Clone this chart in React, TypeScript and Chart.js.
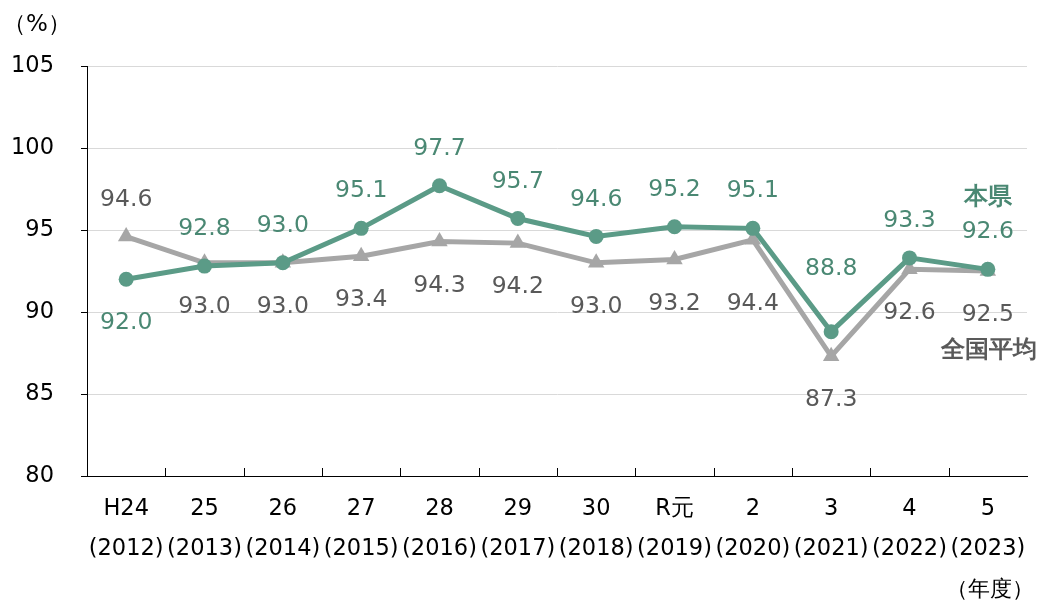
import React, { useEffect, useRef } from "react";
import { Chart, registerables } from "chart.js";

Chart.register(...registerables);

const categories: string[][] = [
  ["H24", "(2012)"], ["25", "(2013)"], ["26", "(2014)"], ["27", "(2015)"],
  ["28", "(2016)"], ["29", "(2017)"], ["30", "(2018)"], ["R元", "(2019)"],
  ["2", "(2020)"], ["3", "(2021)"], ["4", "(2022)"], ["5", "(2023)"],
];
const prefValues = [92.0, 92.8, 93.0, 95.1, 97.7, 95.7, 94.6, 95.2, 95.1, 88.8, 93.3, 92.6];
const nationalValues = [94.6, 93.0, 93.0, 93.4, 94.3, 94.2, 93.0, 93.2, 94.4, 87.3, 92.6, 92.5];
// label placement for each point
const prefPlacement = ["below", "above", "above", "above", "above", "above", "above", "above", "above", "farAbove", "above", "above"];
const nationalPlacement = ["above", "below", "below", "below", "below", "below", "below", "below", "farBelow", "below", "below", "below"];
const prefName = "本県";
const nationalName = "全国平均";
const yUnit = "（%）";
const xUnit = "（年度）";

const GREEN = "#5b9b87";
const GREEN_TEXT = "#4a8873";
const GRAY = "#a6a6a6";
const GRAY_TEXT = "#595959";
const FONT = "'DejaVu Sans', Verdana, sans-serif";

const OFFSETS: Record<string, number> = { above: -37, below: 44, farAbove: -63, farBelow: 64 };

const labelPlugin = {
  id: "customLabels",
  afterDatasetsDraw(chart: any) {
    const ctx = chart.ctx;
    const area = chart.chartArea;
    ctx.save();
    // x-axis inner tick marks
    const xs = chart.scales.x;
    ctx.strokeStyle = "#000";
    ctx.lineWidth = 1;
    for (let i = 1; i < categories.length; i++) {
      const px = Math.round((xs.getPixelForTick(i - 1) + xs.getPixelForTick(i)) / 2) + 0.5;
      ctx.beginPath();
      ctx.moveTo(px, area.bottom);
      ctx.lineTo(px, area.bottom - 8);
      ctx.stroke();
    }
    ctx.font = `23.5px ${FONT}`;
    ctx.textAlign = "center";
    ctx.textBaseline = "middle";
    const draw = (dsIndex: number, vals: number[], place: string[], color: string) => {
      const meta = chart.getDatasetMeta(dsIndex);
      ctx.fillStyle = color;
      meta.data.forEach((pt: any, i: number) => {
        ctx.fillText(vals[i].toFixed(1), pt.x, pt.y + OFFSETS[place[i]]);
      });
    };
    draw(0, prefValues, prefPlacement, GREEN_TEXT);
    draw(1, nationalValues, nationalPlacement, GRAY_TEXT);

    // series names
    ctx.font = `bold 24px ${FONT}`;
    ctx.fillStyle = GREEN_TEXT;
    ctx.fillText(prefName, 988, 198);
    ctx.fillStyle = GRAY_TEXT;
    ctx.textAlign = "right";
    ctx.fillText(nationalName, 1037, 351);

    // axis units
    ctx.fillStyle = "#000";
    ctx.textAlign = "center";
    ctx.font = `23px ${FONT}`;
    ctx.fillText(yUnit, 37, 25);
    ctx.font = `22px ${FONT}`;
    ctx.fillText(xUnit, 990, 590);
    ctx.restore();
  },
};

export default function App() {
  const ref = useRef<HTMLCanvasElement | null>(null);
  useEffect(() => {
    document.body.style.margin = "0";
    const chart = new Chart(ref.current as HTMLCanvasElement, {
      type: "line",
      data: {
        labels: categories,
        datasets: [
          {
            label: prefName,
            data: prefValues,
            borderColor: GREEN,
            backgroundColor: GREEN,
            borderWidth: 5,
            pointRadius: 7.5,
            pointStyle: "circle",
            pointBorderWidth: 0,
            tension: 0,
          },
          {
            label: nationalName,
            data: nationalValues,
            borderColor: GRAY,
            backgroundColor: GRAY,
            borderWidth: 5,
            pointRadius: 9.5,
            pointStyle: "triangle",
            pointBorderWidth: 0,
            tension: 0,
          },
        ],
      },
      options: {
        responsive: false,
        animation: false,
        layout: { padding: { top: 66, right: 13, left: 0, bottom: 0 } },
        plugins: { legend: { display: false }, tooltip: { enabled: false } },
        scales: {
          x: {
            offset: true,
            grid: { display: false, drawTicks: false },
            border: { display: true, color: "#000", width: 1 },
            ticks: {
              color: "#000",
              font: { family: FONT, size: 22.5, lineHeight: 1.78 },
              padding: 13,
              maxRotation: 0,
              autoSkip: false,
            },
            afterFit: (s: any) => { s.height = 604 - 66 - 410; },
          },
          y: {
            min: 80,
            max: 105,
            ticks: {
              stepSize: 5,
              color: "#000",
              font: { family: FONT, size: 22.5 },
              padding: 27,
            },
            grid: { color: "#d9d9d9", tickColor: "#000", tickLength: 6, lineWidth: 1 },
            border: { display: true, color: "#000", width: 1 },
            afterFit: (s: any) => { s.width = 87; },
          },
        },
      },
      plugins: [labelPlugin],
    });
    return () => chart.destroy();
  }, []);
  return (
    <div style={{ width: 1040, height: 604 }}>
      <canvas ref={ref} width={1040} height={604} />
    </div>
  );
}
